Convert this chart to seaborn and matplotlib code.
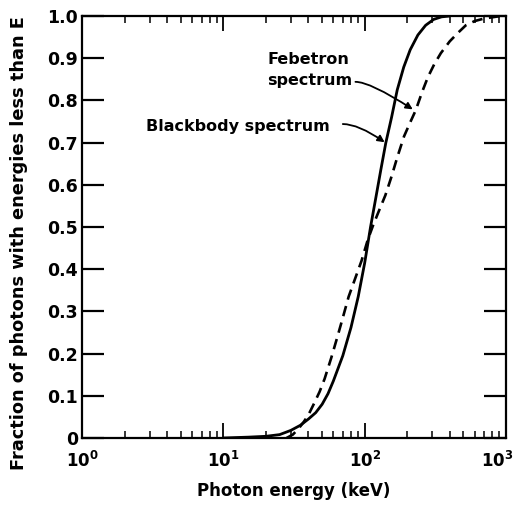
import numpy as np
import pandas as pd
import matplotlib
matplotlib.use('Agg')
import matplotlib.pyplot as plt
import matplotlib.transforms as mtrans
import seaborn as sns

# blackbody spectrum (solid)
bb_energy = [10, 15, 20, 25, 30, 35, 40, 45, 50, 55, 60, 70, 80, 90, 100, 110, 120, 130,
             141, 155, 170, 189, 210, 238, 270, 308, 350, 400]
bb_frac = [0.0, 0.002, 0.004, 0.008, 0.018, 0.030, 0.045, 0.060, 0.080, 0.105, 0.135, 0.195,
           0.262, 0.335, 0.415, 0.500, 0.570, 0.635, 0.699, 0.760, 0.825, 0.879, 0.920, 0.955,
           0.978, 0.992, 0.998, 1.0]

# febetron spectrum (dashed)
feb_energy = [28, 31, 34, 37, 40, 44, 48, 52, 58, 64, 70, 77, 85, 95, 105, 115, 125, 140,
              155, 170, 190, 210, 230, 255, 280, 310, 346, 400, 457, 520, 600, 700, 800, 920]
feb_frac = [0.0, 0.008, 0.022, 0.038, 0.055, 0.083, 0.110, 0.140, 0.190, 0.239, 0.285, 0.335,
            0.375, 0.42, 0.469, 0.505, 0.535, 0.575, 0.62, 0.665, 0.715, 0.748, 0.777, 0.82,
            0.855, 0.885, 0.912, 0.940, 0.960, 0.978, 0.988, 0.994, 0.997, 1.0]

x_ticks = [1, 10, 100, 1000]
x_ticklabels = [r'$\mathbf{10^{0}}$', r'$\mathbf{10^{1}}$', r'$\mathbf{10^{2}}$', r'$\mathbf{10^{3}}$']
y_ticks = [0, 0.1, 0.2, 0.3, 0.4, 0.5, 0.6, 0.7, 0.8, 0.9, 1.0]
y_ticklabels = ['0', '0.1', '0.2', '0.3', '0.4', '0.5', '0.6', '0.7', '0.8', '0.9', '1.0']

sns.set_theme(style='ticks')
plt.rcParams['font.family'] = ['DejaVu Sans']
plt.rcParams['font.weight'] = 'bold'
plt.rcParams['mathtext.fontset'] = 'dejavusans'
plt.rcParams['text.color'] = 'black'
plt.rcParams['axes.labelcolor'] = 'black'
plt.rcParams['xtick.color'] = 'black'
plt.rcParams['ytick.color'] = 'black'

bb = pd.DataFrame({'energy': bb_energy, 'frac': bb_frac})
feb = pd.DataFrame({'energy': feb_energy, 'frac': feb_frac})

fig = plt.figure(figsize=(5.2, 5.05), dpi=100)
ax = fig.add_axes([0.158, 0.1327, 0.815, 0.8356])

sns.lineplot(data=bb, x='energy', y='frac', ax=ax, color='black', lw=2.0)
sns.lineplot(data=feb, x='energy', y='frac', ax=ax, color='black', lw=1.9,
             linestyle=(0, (4, 2.5)))

ax.set_xscale('log')
ax.set_xlim(1, 1000)
ax.set_ylim(0, 1.0)
ax.set_xticks(x_ticks)
ax.set_xticklabels(x_ticklabels)
ax.set_yticks(y_ticks)
ax.set_yticklabels(y_ticklabels)

for s in ax.spines.values():
    s.set_linewidth(1.6)
    s.set_color('black')

ax.tick_params(axis='y', which='major', direction='in', length=16, width=1.6,
               left=True, right=True, labelsize=12.5, pad=3)
ax.tick_params(axis='x', which='major', direction='in', length=11, width=1.3,
               top=True, bottom=True, labelsize=12, pad=9)
ax.tick_params(axis='x', which='minor', direction='in', length=5, width=1.1,
               top=True, bottom=True)
ax.tick_params(axis='y', which='minor', left=False, right=False)

# last decade label sits a bit left of its tick, as in the original
last = ax.get_xticklabels()[-1]
last.set_transform(last.get_transform() +
                   mtrans.ScaledTranslation(-6 / 72, 0, fig.dpi_scale_trans))

ax.set_xlabel('Photon energy (keV)', fontsize=12, fontweight='bold', labelpad=8)
ax.set_ylabel('Fraction of photons with energies less than E', fontsize=12.8,
              fontweight='bold')
ax.yaxis.set_label_coords(-0.127, 0.462)

# annotations
ax.text(20.5, 0.873, 'Febetron\nspectrum', ha='left', va='center', fontsize=11.5,
        fontweight='bold', linespacing=1.5)
ax.annotate('', xy=(223, 0.777), xytext=(86, 0.844),
            arrowprops=dict(arrowstyle='-|>', color='black', lw=1.3,
                            connectionstyle='angle3,angleA=0,angleB=-33',
                            mutation_scale=10, shrinkA=0, shrinkB=1))
ax.text(57, 0.737, 'Blackbody spectrum', ha='right', va='center', fontsize=11.5,
        fontweight='bold')
ax.annotate('', xy=(141, 0.699), xytext=(70, 0.744),
            arrowprops=dict(arrowstyle='-|>', color='black', lw=1.3,
                            connectionstyle='angle3,angleA=0,angleB=-35',
                            mutation_scale=10, shrinkA=0, shrinkB=1))

fig.savefig('out.png', dpi=100)
plt.close(fig)
